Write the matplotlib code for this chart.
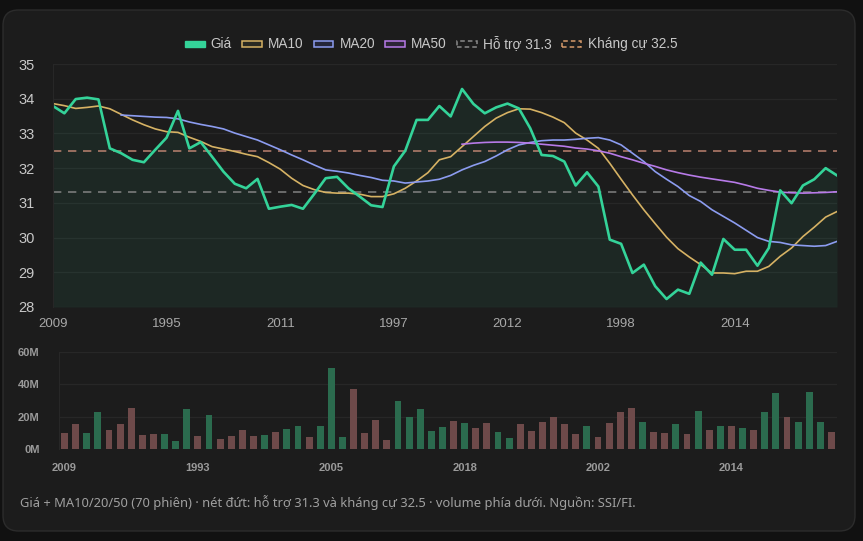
import matplotlib
matplotlib.use("Agg")
import matplotlib.pyplot as plt
from matplotlib.patches import Patch, FancyBboxPatch
import numpy as np

plt.rcParams['font.family'] = ['Liberation Sans', 'DejaVu Sans']

# session labels (only the ones visible on the axes are known)
x_labels = [''] * 70
for i, s in {0: '2009', 10: '1995', 12: '1993', 20: '2011', 24: '2005', 30: '1997',
             36: '2018', 40: '2012', 48: '2002', 50: '1998', 60: '2014'}.items():
    x_labels[i] = s

price = [33.79, 33.58, 33.99, 34.03, 33.98, 32.57, 32.43, 32.24, 32.17, 32.53,
         32.88, 33.65, 32.57, 32.75, 32.33, 31.90, 31.55, 31.42, 31.69, 30.83,
         30.89, 30.94, 30.83, 31.26, 31.71, 31.75, 31.42, 31.18, 30.93, 30.88,
         32.05, 32.50, 33.39, 33.39, 33.79, 33.49, 34.28, 33.85, 33.58, 33.75,
         33.86, 33.72, 33.15, 32.38, 32.35, 32.19, 31.50, 31.88, 31.47, 29.94,
         29.82, 28.98, 29.22, 28.60, 28.23, 28.50, 28.38, 29.28, 28.93, 29.96,
         29.65, 29.65, 29.19, 29.70, 31.36, 30.99, 31.50, 31.68, 32.00, 31.79]

ma10 = [33.86, 33.80, 33.72, 33.75, 33.79, 33.71, 33.55, 33.39, 33.25, 33.13,
        33.05, 33.03, 32.89, 32.77, 32.62, 32.55, 32.48, 32.40, 32.33, 32.16,
        31.97, 31.71, 31.50, 31.38, 31.30, 31.28, 31.28, 31.25, 31.18, 31.18,
        31.26, 31.42, 31.63, 31.87, 32.24, 32.33, 32.62, 32.91, 33.20, 33.44,
        33.60, 33.71, 33.70, 33.60, 33.47, 33.31, 33.01, 32.81, 32.57, 32.14,
        31.68, 31.23, 30.80, 30.40, 30.01, 29.68, 29.44, 29.22, 28.98, 28.98,
        28.96, 29.03, 29.03, 29.17, 29.46, 29.70, 30.03, 30.30, 30.59, 30.75]

ma20 = [None] * 6 + [
        33.53, 33.51, 33.49, 33.47,
        33.46, 33.42, 33.33, 33.26, 33.20, 33.13, 33.01, 32.91, 32.81, 32.67,
        32.53, 32.38, 32.24, 32.09, 31.95, 31.91, 31.86, 31.79, 31.73, 31.65,
        31.63, 31.57, 31.60, 31.63, 31.68, 31.79, 31.95, 32.08, 32.19, 32.35,
        32.53, 32.67, 32.74, 32.79, 32.81, 32.81, 32.83, 32.86, 32.88, 32.81,
        32.67, 32.43, 32.19, 31.90, 31.68, 31.47, 31.21, 31.04, 30.80, 30.61,
        30.42, 30.21, 30.00, 29.89, 29.86, 29.79, 29.77, 29.75, 29.77, 29.89]

ma50 = [None] * 36 + [
        32.69, 32.72, 32.74, 32.75,
        32.75, 32.74, 32.72, 32.69, 32.66, 32.63, 32.58, 32.55, 32.50, 32.43,
        32.33, 32.24, 32.14, 32.05, 31.95, 31.87, 31.80, 31.74, 31.69, 31.64,
        31.59, 31.51, 31.42, 31.36, 31.31, 31.29, 31.28, 31.29, 31.30, 31.32]

# volume in millions, and whether the session closed up (green) or down
volume = [10.1, 15.5, 10.1, 22.6, 11.8, 15.7, 25.4, 8.9, 9.5, 9.1,
          5.0, 24.8, 8.1, 20.9, 6.0, 8.3, 11.6, 7.9, 8.9, 10.6,
          12.4, 14.1, 7.2, 14.1, 50.1, 7.2, 37.0, 10.1, 17.8, 5.6,
          29.4, 20.1, 24.6, 11.2, 13.9, 17.4, 15.9, 13.2, 15.9, 10.6,
          7.0, 15.3, 11.2, 16.8, 19.9, 15.7, 9.3, 14.3, 7.4, 16.3,
          22.6, 25.4, 16.6, 10.6, 10.1, 15.3, 9.3, 23.2, 11.6, 14.5,
          14.5, 13.2, 12.0, 22.6, 34.6, 19.9, 17.0, 35.4, 17.0, 10.6]
vol_up = [0, 0, 1, 1, 0, 0, 0, 0, 0, 1,
          1, 1, 0, 1, 0, 0, 0, 0, 1, 0,
          1, 1, 0, 1, 1, 1, 0, 0, 0, 0,
          1, 1, 1, 1, 1, 0, 1, 0, 0, 1,
          1, 0, 0, 0, 0, 0, 0, 1, 0, 0,
          0, 0, 1, 0, 0, 1, 0, 1, 0, 1,
          0, 1, 0, 1, 1, 0, 1, 1, 1, 0]

support = 31.3
resistance = 32.5

BG_OUT = '#111111'
BG = '#1c1c1c'
GRID = '#272727'
C_PRICE = '#34d399'
C_MA10 = '#d6b264'
C_MA20 = '#8c9cf0'
C_MA50 = '#b77ae8'
C_SUP = '#8a8a8a'
C_RES = '#c98a76'

W, H = 863, 541
fig = plt.figure(figsize=(W / 100, H / 100), dpi=100, facecolor=BG_OUT)

panel = FancyBboxPatch((3 / W, 10 / H), 852 / W, 521 / H,
                       boxstyle='round,pad=0,rounding_size=0.018',
                       transform=fig.transFigure, facecolor=BG,
                       edgecolor='#2c2c2c', linewidth=1.0, mutation_aspect=W / H,
                       zorder=-5)
fig.patches.append(panel)

x = np.arange(len(price))


def arr(v):
    return np.array([np.nan if a is None else a for a in v], dtype=float)


# ---- price panel ----
ax = fig.add_axes([53 / W, (H - 307) / H, 784 / W, 243 / H])
ax.set_facecolor('none')
ax.fill_between(x, price, 28, color=C_PRICE, alpha=0.07, linewidth=0)
ax.axhline(resistance, color=C_RES, lw=1.2, dashes=(5, 4), alpha=0.85)
ax.axhline(support, color=C_SUP, lw=1.2, dashes=(5, 4), alpha=0.85)
ax.plot(x, ma10, color=C_MA10, lw=1.2)
ax.plot(x, arr(ma20), color=C_MA20, lw=1.2)
ax.plot(x, arr(ma50), color=C_MA50, lw=1.2)
ax.plot(x, price, color=C_PRICE, lw=1.9)

ax.set_xlim(0, len(price) - 1)
ax.set_ylim(28, 35)
ax.set_yticks(range(28, 36))
ax.set_xticks(range(0, 70, 10))
ax.set_xticklabels([x_labels[i] for i in range(0, 70, 10)])
ax.grid(axis='y', color=GRID, lw=0.9)
ax.set_axisbelow(True)
for s in ['top', 'right', 'bottom']:
    ax.spines[s].set_visible(False)
ax.spines['left'].set_color(GRID)
ax.tick_params(axis='y', length=0, pad=13, labelsize=10.5, labelcolor='#c8c8c8')
ax.tick_params(axis='x', length=0, pad=8, labelsize=9.5, labelcolor='#a8a8a8')

# ---- volume panel ----
av = fig.add_axes([59 / W, (H - 449) / H, 778 / W, 97 / H])
av.set_facecolor('none')
cols = ['#2b6b4e' if u else '#6e4a4a' for u in vol_up]
bars = av.bar(x, np.array(volume) * 1e6, width=0.62, color=cols, zorder=2)
av.set_xlim(-0.5, len(volume) - 0.5)
av.set_ylim(0, 60e6)
av.set_yticks([0, 20e6, 40e6, 60e6])
av.set_yticklabels(['0M', '20M', '40M', '60M'])
av.set_xticks(range(0, 70, 12))
av.set_xticklabels([x_labels[i] for i in range(0, 70, 12)])
av.grid(axis='y', color=GRID, lw=0.9)
av.set_axisbelow(True)
for s in ['top', 'right', 'bottom']:
    av.spines[s].set_visible(False)
av.spines['left'].set_color(GRID)
av.tick_params(axis='y', length=0, pad=14, labelsize=8, labelcolor='#9a9a9a')
av.tick_params(axis='x', length=0, pad=10, labelsize=8, labelcolor='#9a9a9a')
for t in av.get_xticklabels() + av.get_yticklabels():
    t.set_fontweight('bold')

# ---- legend ----
handles = [
    Patch(facecolor=C_PRICE, edgecolor=C_PRICE, lw=1),
    Patch(facecolor='#2a2a22', edgecolor=C_MA10, lw=1.1),
    Patch(facecolor='#24263a', edgecolor=C_MA20, lw=1.1),
    Patch(facecolor='#2c2436', edgecolor=C_MA50, lw=1.1),
    Patch(facecolor='none', edgecolor=C_SUP, lw=1.1, linestyle=(0, (3, 2))),
    Patch(facecolor='none', edgecolor='#d69a6a', lw=1.1, linestyle=(0, (3, 2))),
]
names = ['Giá', 'MA10', 'MA20', 'MA50', 'Hỗ trợ 31.3', 'Kháng cự 32.5']
fig.legend(handles, names, loc='center', bbox_to_anchor=(431 / W, 1 - 44 / H),
           ncol=6, frameon=False, fontsize=9.8, labelcolor='#c8c8c8',
           handlelength=1.45, handleheight=0.32, handletextpad=0.45,
           columnspacing=0.75)

fig.text(20 / W, 1 - 502 / H,
         'Giá + MA10/20/50 (70 phiên) · nét đứt: hỗ trợ 31.3 và kháng cự 32.5 · '
         'volume phía dưới. Nguồn: SSI/FI.',
         ha='left', va='center', fontsize=9.3, color='#a0a0a0',
         family=['Noto Sans', 'DejaVu Sans'])

fig.savefig('out.png', dpi=100, facecolor=BG_OUT)
